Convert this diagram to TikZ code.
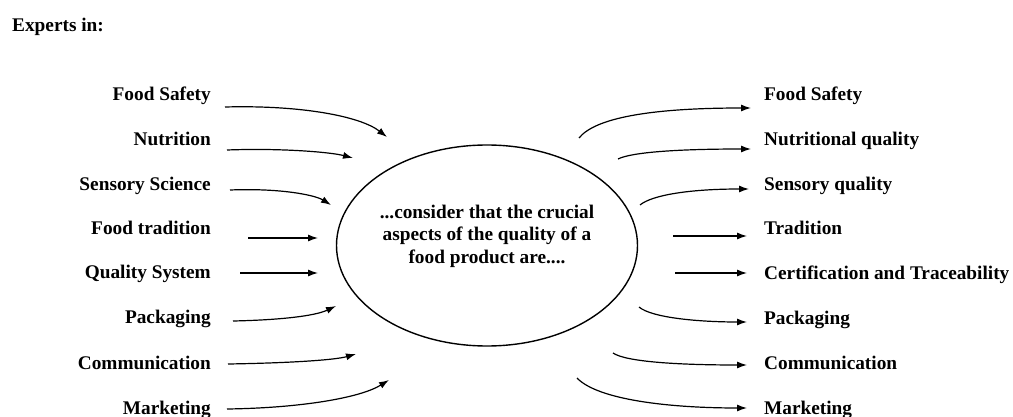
\documentclass[tikz,border=0pt]{standalone}
\usepackage{fontspec}
\setmainfont{Liberation Serif}
\usetikzlibrary{arrows.meta,shapes.geometric}
\tikzset{
  lbl/.style={font=\fontsize{19.3}{22.5}\selectfont\bfseries, inner sep=0pt},
  leftlbl/.style={lbl, anchor=base east},
  rightlbl/.style={lbl, anchor=base west},
  arr/.style={line width=1.2pt, -{Latex[length=10pt,width=7pt]}},
  bubble/.style={draw, line width=1.4pt, ellipse, minimum width=301pt, minimum height=201pt, inner sep=0pt}
}
\begin{document}
\begin{tikzpicture}[x=1pt,y=1pt]
\useasboundingbox (0,0) rectangle (1013,-417);
\fill[white] (0,0) rectangle (1013,-417);

\node[lbl, anchor=base west] (experts) at (12,-32) {Experts in:};

\node[bubble] (ell) at (487,-245.5) {};
\node[lbl, align=center] (ctext) at (487,-236) {...consider that the crucial\\aspects of the quality of a\\food product are....};

% left labels
\node[leftlbl] (l1) at (211,-100.5) {Food Safety};
\node[leftlbl] (l2) at (211,-145.5) {Nutrition};
\node[leftlbl] (l3) at (211,-190.5) {Sensory Science};
\node[leftlbl] (l4) at (211,-234.5) {Food tradition};
\node[leftlbl] (l5) at (211,-278.5) {Quality System};
\node[leftlbl] (l6) at (211,-323.5) {Packaging};
\node[leftlbl] (l7) at (211,-369.5) {Communication};
\node[leftlbl] (l8) at (211,-414) {Marketing};

% right labels
\node[rightlbl] (r1) at (764,-100.5) {Food Safety};
\node[rightlbl] (r2) at (764,-145.5) {Nutritional quality};
\node[rightlbl] (r3) at (764,-190.5) {Sensory quality};
\node[rightlbl] (r4) at (764,-234.5) {Tradition};
\node[rightlbl] (r5) at (764,-279.5) {Certification and Traceability};
\node[rightlbl] (r6) at (764,-324.5) {Packaging};
\node[rightlbl] (r7) at (764,-369.5) {Communication};
\node[rightlbl] (r8) at (764,-414) {Marketing};

% left arrow coordinates
\coordinate (ls1) at (225,-107);  \coordinate (le1) at (387,-137);
\coordinate (ls2) at (227,-150);  \coordinate (le2) at (353,-158);
\coordinate (ls3) at (230,-190);  \coordinate (le3) at (331,-205);
\coordinate (ls4) at (248,-238);  \coordinate (le4) at (318,-238);
\coordinate (ls5) at (240,-273);  \coordinate (le5) at (318,-273);
\coordinate (ls6) at (233,-321);  \coordinate (le6) at (336,-306);
\coordinate (ls7) at (228,-364);  \coordinate (le7) at (356,-354);
\coordinate (ls8) at (227,-409);  \coordinate (le8) at (389,-380);

\draw[arr] (ls1) .. controls (300,-105) and (360,-116) .. (le1);
\draw[arr] (ls2) .. controls (280,-148) and (330,-152) .. (le2);
\draw[arr] (ls3) .. controls (280,-188) and (315,-195) .. (le3);
\draw[arr] (ls4) -- (le4);
\draw[arr] (ls5) -- (le5);
\draw[arr] (ls6) .. controls (280,-320) and (315,-316) .. (le6);
\draw[arr] (ls7) .. controls (290,-363) and (335,-360) .. (le7);
\draw[arr] (ls8) .. controls (300,-408) and (360,-398) .. (le8);

% right arrow coordinates
\coordinate (rs1) at (579,-138);  \coordinate (re1) at (751,-108);
\coordinate (rs2) at (618,-159);  \coordinate (re2) at (751,-149);
\coordinate (rs3) at (640,-205);  \coordinate (re3) at (749,-189);
\coordinate (rs4) at (673,-236);  \coordinate (re4) at (747,-236);
\coordinate (rs5) at (675,-273);  \coordinate (re5) at (747,-273);
\coordinate (rs6) at (639,-307);  \coordinate (re6) at (747,-322);
\coordinate (rs7) at (613,-353);  \coordinate (re7) at (747,-365);
\coordinate (rs8) at (577,-378);  \coordinate (re8) at (747,-408);

\draw[arr] (rs1) .. controls (595,-118) and (650,-108) .. (re1);
\draw[arr] (rs2) .. controls (632,-152) and (680,-149) .. (re2);
\draw[arr] (rs3) .. controls (652,-195) and (690,-189) .. (re3);
\draw[arr] (rs4) -- (re4);
\draw[arr] (rs5) -- (re5);
\draw[arr] (rs6) .. controls (652,-318) and (700,-322) .. (re6);
\draw[arr] (rs7) .. controls (626,-362) and (680,-365) .. (re7);
\draw[arr] (rs8) .. controls (598,-400) and (670,-408) .. (re8);
\end{tikzpicture}
\end{document}
